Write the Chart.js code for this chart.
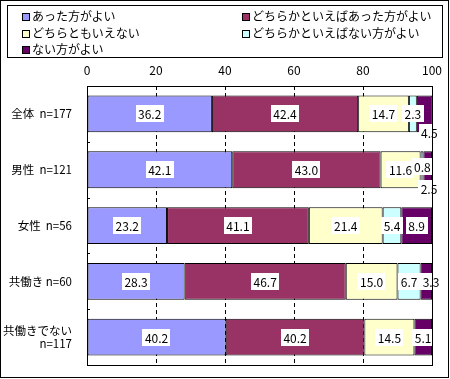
<!DOCTYPE html>
<html>
<head>
<meta charset="utf-8">
<script src="https://cdn.jsdelivr.net/npm/chart.js@4"></script>
<style>
  body { margin: 0; background: #fff; }
  #wrap { position: relative; width: 450px; height: 379px; }
  #legend {
    position: absolute; left: 7px; top: 5px; width: 434px; height: 51px;
    border: 1px solid #000; font: 12px "Noto Sans CJK JP", sans-serif; color: #000;
  }
  .item { position: absolute; height: 16px; line-height: 16px; white-space: nowrap; }
  .item i { display: inline-block; width: 6px; height: 6px; border: 1px solid #000; margin-right: 2px; vertical-align: 0px; }
</style>
</head>
<body>
<div id="wrap">
  <canvas id="chart" width="450" height="379"></canvas>
  <div id="legend"></div>
</div>
<script>
// data
const categories = ['全体  n=177', '男性  n=121', '女性  n=56', '共働き n=60', ['共働きでない', 'n=117']];
const seriesNames = ['あった方がよい', 'どちらかといえばあった方がよい', 'どちらともいえない', 'どちらかといえばない方がよい', 'ない方がよい'];
const atta = [36.2, 42.1, 23.2, 28.3, 40.2];
const dochiraAtta = [42.4, 43.0, 41.1, 46.7, 40.2];
const dochiramo = [14.7, 11.6, 21.4, 15.0, 14.5];
const dochiraNai = [2.3, 0.8, 5.4, 6.7, 0];
const nai = [4.5, 2.5, 8.9, 3.3, 5.1];
const xTicks = [0, 20, 40, 60, 80, 100];

const colors = ['#9999FF', '#993366', '#FFFFCC', '#CCFFFF', '#660066'];
const values = [atta, dochiraAtta, dochiramo, dochiraNai, nai];

// ラベルが重なるところだけずらす (カテゴリ,系列)
const labelShift = { '0,4': 'below', '1,3': 'right', '1,4': 'below', '3,4': 'end' };

const FONT = '"Noto Sans CJK JP", sans-serif';

// 凡例 (HTML)
const legend = document.getElementById('legend');
seriesNames.forEach((name, i) => {
  const d = document.createElement('div');
  d.className = 'item';
  d.style.left = (i % 2 === 0 ? 14 : 234) + 'px';
  d.style.top = (2 + Math.floor(i / 2) * 16.5) + 'px';
  d.innerHTML = '<i style="background:' + colors[i] + '"></i>' + name;
  legend.appendChild(d);
});

const dataLabels = {
  id: 'dataLabels',
  afterDatasetsDraw(chart) {
    const ctx = chart.ctx;
    ctx.save();
    ctx.font = '12px ' + FONT;
    ctx.textAlign = 'center';
    ctx.textBaseline = 'middle';
    chart.data.datasets.forEach((ds, i) => {
      chart.getDatasetMeta(i).data.forEach((el, j) => {
        const v = ds.data[j];
        if (!v) return;
        const txt = v.toFixed(1);
        let x = (el.x + el.base) / 2;
        let y = el.y;
        const mode = labelShift[j + ',' + i];
        if (mode === 'below') { x = el.x - 3; y = el.y + el.height / 2; }
        if (mode === 'right') { x = el.x - 1; y = el.y - 3; }
        if (mode === 'end') { x = el.x - 1; }
        const w = ctx.measureText(txt).width + 5;
        ctx.fillStyle = '#fff';
        ctx.fillRect(Math.round(x - w / 2), Math.round(y - 8.5), Math.round(w), 17);
        ctx.fillStyle = '#000';
        ctx.fillText(txt, x, y + 1);
      });
    });
    ctx.restore();
  }
};

const frame = {
  id: 'frame',
  afterDraw(chart) {
    const ctx = chart.ctx;
    const a = chart.chartArea;
    const ys = chart.scales.y;
    ctx.save();
    ctx.strokeStyle = '#000';
    ctx.lineWidth = 1;
    ctx.strokeRect(Math.round(a.left) + 0.5, Math.round(a.top) + 0.5, Math.round(a.right - a.left), Math.round(a.bottom - a.top));
    // 内向きの目盛り
    for (let k = 1; k < categories.length; k++) {
      const y = Math.round((ys.getPixelForValue(k - 1) + ys.getPixelForValue(k)) / 2) + 0.5;
      ctx.beginPath();
      ctx.moveTo(a.left, y);
      ctx.lineTo(a.left + 3, y);
      ctx.stroke();
    }
    // 外枠
    ctx.strokeRect(0.5, 0.5, 448, 377);
    ctx.restore();
  }
};

new Chart(document.getElementById('chart'), {
  type: 'bar',
  data: {
    labels: categories,
    datasets: seriesNames.map((name, i) => ({
      label: name,
      data: values[i],
      backgroundColor: colors[i],
      borderColor: '#000',
      borderWidth: 1,
      borderSkipped: false,
      categoryPercentage: 1,
      barPercentage: 0.66
    }))
  },
  options: {
    indexAxis: 'y',
    responsive: false,
    animation: false,
    layout: { padding: { top: 62, right: 18, bottom: 6, left: 0 } },
    plugins: { legend: { display: false }, tooltip: { enabled: false } },
    scales: {
      x: {
        position: 'top',
        stacked: true,
        min: 0, max: 100,
        afterBuildTicks(s) { s.ticks = xTicks.map(v => ({ value: v })); },
        afterFit(s) { s.height = 24; },
        ticks: { color: '#000', font: { family: FONT, size: 12 }, padding: 8 },
        grid: {
          drawTicks: false,
          color: c => (c.tick && (c.tick.value === 0 || c.tick.value === 100)) ? 'rgba(0,0,0,0)' : '#000',
          lineWidth: 1
        },
        border: { display: false, dash: [4, 3] }
      },
      y: {
        stacked: true,
        afterFit(s) { s.width = 87; },
        ticks: { color: '#000', font: { family: FONT, size: 11.5 }, padding: 7 },
        grid: { display: false },
        border: { display: false }
      }
    }
  },
  plugins: [dataLabels, frame]
});
</script>
</body>
</html>
